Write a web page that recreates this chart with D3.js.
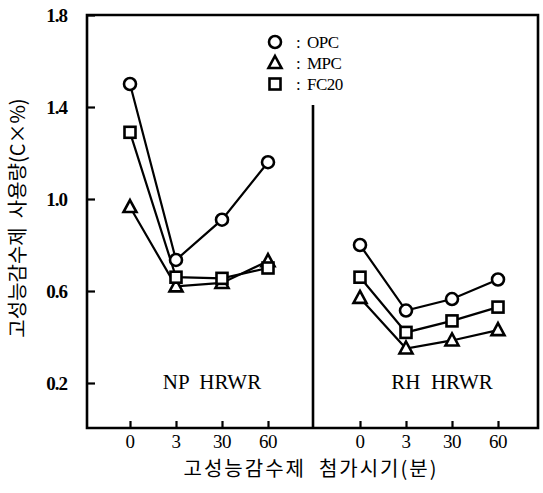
<!DOCTYPE html>
<html><head><meta charset="utf-8">
<script src="https://cdn.jsdelivr.net/npm/d3@7"></script>
<style>body{margin:0;background:#fff}svg{display:block}</style>
</head><body>
<script>
const times = ["0", "3", "30", "60"];
const panels = ["NP  HRWR", "RH  HRWR"];
const seriesNames = ["OPC", "MPC", "FC20"];
const npOPC  = [1.50, 0.735, 0.91, 1.16];
const npMPC  = [0.965, 0.62, 0.635, 0.73];
const npFC20 = [1.29, 0.66, 0.655, 0.70];
const rhOPC  = [0.80, 0.515, 0.565, 0.65];
const rhMPC  = [0.57, 0.35, 0.385, 0.43];
const rhFC20 = [0.66, 0.42, 0.47, 0.53];
const yTicks = [0.2, 0.6, 1.0, 1.4, 1.8];
const yTitle = "고성능감수제  사용량(C×%)";
const xTitle = "고성능감수제  첨가시기(분)";

const W = 543, H = 493;
const L = 87, R = 538, T = 15, B = 428, DIV = 313;
const svg = d3.select("body").append("svg").attr("width", W).attr("height", H);
const y = d3.scaleLinear().domain([0, 1.8]).range([429, 15]);
const xs = [
  d3.scalePoint().domain(times).range([130, 268]),
  d3.scalePoint().domain(times).range([360, 498])
];
const data = [
  {OPC: npOPC, MPC: npMPC, FC20: npFC20},
  {OPC: rhOPC, MPC: rhMPC, FC20: rhFC20}
];
const serif = "'Liberation Serif','Times New Roman',serif";
const kr = "'Noto Sans CJK KR','Noto Sans',sans-serif";

// frame
svg.append("path").attr("d", `M${L},${T}H${R}V${B}H${L}Z`)
  .attr("fill", "none").attr("stroke", "#000").attr("stroke-width", 2.6);
svg.append("line").attr("x1", DIV).attr("x2", DIV).attr("y1", 105).attr("y2", B)
  .attr("stroke", "#000").attr("stroke-width", 2.6);

// y ticks
const ya = svg.append("g").attr("transform", `translate(${L},0)`)
  .call(d3.axisRight(y).tickValues(yTicks).tickSize(8).tickFormat(""));
ya.select(".domain").remove();
ya.selectAll("line").attr("stroke", "#000").attr("stroke-width", 2.2);
svg.append("g").selectAll("text").data(yTicks).join("text")
  .attr("x", 67).attr("y", d => y(d)).attr("dy", "0.35em")
  .attr("text-anchor", "end").attr("font-family", serif).attr("font-weight", "bold")
  .attr("font-size", 19).attr("letter-spacing", -1).text(d => d.toFixed(1));

// x ticks per panel
xs.forEach((x, i) => {
  const g = svg.append("g").attr("transform", `translate(0,${B})`)
    .call(d3.axisTop(x).tickSize(7).tickFormat(""));
  g.select(".domain").remove();
  g.selectAll("line").attr("stroke", "#000").attr("stroke-width", 2.2);
  svg.append("g").selectAll("text").data(times).join("text")
    .attr("x", d => x(d)).attr("y", 441).attr("dy", "0.35em")
    .attr("text-anchor", "middle").attr("font-family", serif)
    .attr("font-size", 19).attr("letter-spacing", -0.5).text(d => d);
  svg.append("text").attr("x", (x.range()[0] + x.range()[1]) / 2 + 13)
    .attr("y", 382).attr("dy", "0.35em").attr("text-anchor", "middle")
    .attr("font-family", serif).attr("font-size", 21)
    .style("white-space", "pre").text(panels[i]);
});

// markers
function marker(g, name, cx, cy) {
  if (name === "OPC") {
    g.append("circle").attr("cx", cx).attr("cy", cy).attr("r", 6)
      .attr("fill", "#fff").attr("stroke", "#000").attr("stroke-width", 2.6);
  } else if (name === "FC20") {
    g.append("rect").attr("x", cx - 5.5).attr("y", cy - 5.5).attr("width", 11).attr("height", 11)
      .attr("fill", "#fff").attr("stroke", "#000").attr("stroke-width", 2.6);
  } else {
    g.append("path").attr("d", `M${cx},${cy - 7}L${cx + 6.5},${cy + 5}L${cx - 6.5},${cy + 5}Z`)
      .attr("fill", "#fff").attr("stroke", "#000").attr("stroke-width", 2.6)
      .attr("stroke-linejoin", "miter");
  }
}

const drawOrder = ["MPC", "FC20", "OPC"];
data.forEach((d, i) => {
  const x = xs[i];
  const line = d3.line().x((v, j) => x(times[j])).y(v => y(v));
  drawOrder.forEach(name => {
    svg.append("path").attr("d", line(d[name])).attr("fill", "none")
      .attr("stroke", "#000").attr("stroke-width", 2.2);
  });
  drawOrder.forEach(name => {
    const g = svg.append("g");
    d[name].forEach((v, j) => marker(g, name, x(times[j]), y(v)));
  });
});

// legend
const legY = [42, 63, 84];
seriesNames.forEach((name, i) => {
  const g = svg.append("g");
  marker(g, name, 275, legY[i]);
  svg.append("text").attr("x", 296).attr("y", legY[i]).attr("dy", "0.35em")
    .attr("font-family", serif).attr("font-size", 17).text(":");
  svg.append("text").attr("x", 307).attr("y", legY[i]).attr("dy", "0.35em")
    .attr("font-family", serif).attr("font-size", 17).attr("letter-spacing", -0.5).text(name);
});

// axis titles
svg.append("text").attr("transform", "translate(18,218) rotate(-90)")
  .attr("text-anchor", "middle").attr("dy", "0.35em")
  .attr("font-family", kr).attr("font-size", 20).style("white-space", "pre").text(yTitle);
svg.append("text").attr("x", 311).attr("y", 469).attr("dy", "0.35em")
  .attr("text-anchor", "middle").attr("font-family", kr).attr("font-size", 20)
  .attr("letter-spacing", 2).style("white-space", "pre").text(xTitle);
</script>
</body></html>
